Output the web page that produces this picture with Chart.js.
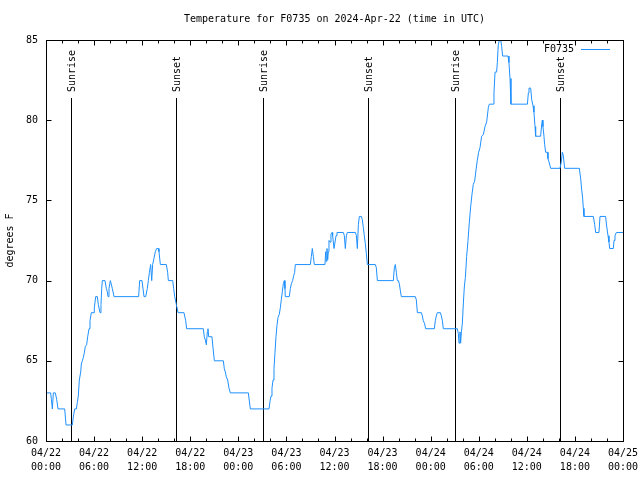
<!DOCTYPE html>
<html>
<head>
<meta charset="utf-8">
<title>Temperature for F0735</title>
<script src="https://cdn.jsdelivr.net/npm/chart.js@4.4.1/dist/chart.umd.min.js"></script>
<style>
  body { margin: 0; background: #fff; }
  canvas { display: block; }
</style>
</head>
<body>
<canvas id="chart" width="640" height="480"></canvas>
<script>
// Dados: horas desde 04/22 00:00 UTC e temperatura (F)
const hours = [
  0, 0.58, 0.67, 0.79, 0.92, 1.16, 1.33, 1.5, 2.33, 2.5, 3.29, 3.41, 3.58, 3.79, 3.91, 4.03,
  4.16, 4.33, 4.41, 4.53, 4.66, 4.78, 4.91, 5.07, 5.2, 5.37, 5.49, 5.66, 5.99, 6.03, 6.2, 6.41,
  6.53, 6.74, 6.86, 6.95, 7.03, 7.36, 7.53, 7.65, 7.74, 7.86, 8.03, 8.11, 8.28, 8.49, 11.56, 11.69,
  11.98, 12.23, 12.44, 12.64, 12.77, 12.9, 13.06, 13.19, 13.31, 13.48, 13.64, 13.81, 14.02, 14.1,
  14.27, 15.02, 15.18, 15.27, 15.81, 15.93, 16.06, 16.27, 16.48, 17.22, 17.43, 17.55, 19.63, 19.75,
  19.88, 20.01, 20.13, 20.21, 20.3, 20.71, 20.84, 21.01, 22.13, 22.25, 22.38, 22.5, 22.67, 22.83,
  23, 25.25, 25.37, 25.5, 27.83, 27.96, 28.08, 28.2, 28.33, 28.45, 28.57, 28.7, 28.82, 28.95,
  29.11, 29.24, 29.36, 29.49, 29.61, 29.74, 29.82, 29.86, 30.36, 30.49, 30.61, 30.78, 30.9, 31.03,
  31.11, 32.99, 33.11, 33.23, 33.36, 33.48, 34.81, 34.9, 34.98, 35.06, 35.15, 35.23, 35.31, 35.44,
  35.56, 35.69, 35.77, 35.94, 36.06, 36.19, 36.31, 37.1, 37.23, 37.35, 37.48, 37.6, 38.6, 38.73,
  38.85, 38.98, 39.1, 39.35, 39.47, 39.6, 39.72, 39.85, 39.97, 40.1, 41.1, 41.22, 41.35, 43.34,
  43.47, 43.59, 43.72, 43.84, 43.97, 44.09, 44.21, 44.34, 46.09, 46.21, 46.34, 46.84, 46.96, 47.08,
  47.25, 47.37, 48.46, 48.58, 48.71, 48.83, 49.21, 49.33, 49.46, 49.58, 51.33, 51.45, 51.54, 51.66,
  51.74, 51.83, 51.95, 52.08, 52.2, 52.33, 52.49, 52.66, 52.82, 52.99, 53.16, 53.32, 53.49, 53.66,
  53.82, 53.99, 54.16, 54.36, 54.57, 54.78, 54.99, 55.2, 55.32, 55.82, 55.9, 56.03, 56.23, 56.32,
  56.44, 56.57, 56.74, 56.86, 56.98, 57.65, 57.77, 57.9, 58.02, 60.07, 60.19, 60.27, 60.48, 60.6,
  60.77, 60.89, 61.02, 61.1, 61.72, 61.85, 61.93, 62.01, 62.14, 62.22, 62.35, 62.56, 62.64, 62.77,
  62.97, 64.14, 64.3, 64.43, 64.55, 64.72, 66.55, 66.71, 66.84, 66.97, 67.05, 67.13, 68.3, 68.46,
  68.59, 69, 69.13, 69.83, 69.96, 70.13, 70.25, 70.34, 70.79, 70.88, 71, 71.17, 72
];
const temps = [
  63, 63, 62.6, 62, 63, 63, 62.6, 62, 62, 61, 61, 61.5, 62, 62, 62.4, 62.8,
  63.8, 64.3, 64.8, 65, 65.2, 65.5, 65.9, 66, 66.5, 67, 67.5, 68, 68, 68.3, 69, 69,
  68.5, 68, 68.5, 69.5, 70, 70, 69.5, 69.3, 69, 69.5, 70, 70, 69.5, 69, 69, 70,
  70, 69, 69, 69.5, 70, 70.5, 71, 70, 71, 71.4, 71.8, 72, 72, 71.8,
  71, 71, 70.5, 70, 70, 69.5, 69, 68.5, 68, 68, 67.5, 67, 67, 66.5,
  66.3, 66, 66.8, 67, 66.5, 66.5, 65.8, 65, 65, 64.5, 64.3, 64, 63.8, 63.3,
  63, 63, 62.5, 62, 62, 62.5, 62.8, 63.3, 63.8, 64.5, 65.5, 66.5, 67.2, 67.7,
  67.9, 68.3, 68.8, 69.3, 69.8, 70, 69.5, 69, 69, 69.5, 69.8, 70, 70.3, 70.5,
  71, 71, 71.5, 72, 71.5, 71, 71, 71.8, 71.2, 72, 71.3, 71.8, 72.5, 72.4,
  72.9, 73, 72.8, 72, 72, 72.8, 73, 73, 72.8, 72, 72.8, 73, 73, 72.8,
  72, 73.5, 74, 74, 73.8, 73.3, 72.8, 72.3, 71.7, 71, 71, 70.8, 70, 70,
  70.8, 71, 70.5, 70, 70, 69.8, 69.4, 69, 69, 68.8, 68, 68, 67.8, 67.5,
  67.3, 67, 67, 67.5, 67.8, 68, 68, 67.8, 67.5, 67, 67, 66.7, 66.1, 66.8,
  66.1, 66.8, 67.3, 68.6, 69.6, 70.2, 71.5, 72.5, 73.6, 74.6, 75.4, 76, 76.2, 76.9,
  77.5, 78, 78.3, 79, 79.1, 79.6, 79.9, 80.8, 81, 81, 81.7, 83, 83, 83.6,
  84.7, 85, 85, 84.6, 84, 84, 83.6, 82.6, 81, 81, 81.7, 82, 82, 81.3,
  80.9, 80.5, 79.6, 79, 79, 79.7, 80, 79.6, 79, 78.5, 78, 78, 77.6, 77.4,
  77, 77, 77.4, 78, 77.8, 77, 77, 76.4, 75.7, 75.1, 74.5, 74, 74, 73.5,
  73, 73, 74, 74, 73.4, 72.8, 72.4, 72, 72, 72.5, 72.8, 73, 73
];

// Nascer e pôr do sol (horas)
const eventHours = [3.12, 16.25, 27.1, 40.22, 51.0, 64.2];
const eventLabels = ["Sunrise", "Sunset", "Sunrise", "Sunset", "Sunrise", "Sunset"];

// Rótulos do eixo x (a cada 6 horas)
const tickDates = ["04/22", "04/22", "04/22", "04/22", "04/23", "04/23", "04/23",
  "04/23", "04/24", "04/24", "04/24", "04/24", "04/25"];
const tickTimes = ["00:00", "06:00", "12:00", "18:00", "00:00", "06:00", "12:00",
  "18:00", "00:00", "06:00", "12:00", "18:00", "00:00"];
const yTicks = [60, 65, 70, 75, 80, 85];

const seriesName = "F0735";
const lineColor = "#1e90ff";
const monoFont = "'DejaVu Sans Mono', monospace";

Chart.defaults.font.family = monoFont;
Chart.defaults.font.size = 10;
Chart.defaults.color = "#000";

const px = (v) => Math.round(v) + 0.5;

// Moldura com marcas para dentro (estilo gnuplot)
const framePlugin = {
  id: "frame",
  afterDraw: (chart) => {
    const { ctx, chartArea: a, scales } = chart;
    const l = px(a.left), r = px(a.right), t = px(a.top), b = px(a.bottom);
    ctx.save();
    ctx.strokeStyle = "#000";
    ctx.lineWidth = 1;
    ctx.strokeRect(l, t, r - l, b - t);
    ctx.beginPath();
    for (let h = 0; h <= 72; h += 2) {
      const x = px(scales.x.getPixelForValue(h));
      const len = h % 6 === 0 ? 5 : 3;
      ctx.moveTo(x, b);
      ctx.lineTo(x, b - len);
      ctx.moveTo(x, t);
      ctx.lineTo(x, t + len);
    }
    yTicks.forEach((v) => {
      const y = px(scales.y.getPixelForValue(v));
      ctx.moveTo(l, y);
      ctx.lineTo(l + 5, y);
      ctx.moveTo(r, y);
      ctx.lineTo(r - 5, y);
    });
    ctx.stroke();

    // Legenda: texto e amostra da linha
    const ly = Math.round(a.top + 9) + 0.5;
    ctx.font = "10px " + monoFont;
    ctx.fillStyle = "#000";
    ctx.textAlign = "right";
    ctx.textBaseline = "middle";
    ctx.fillText(seriesName, a.right - 49, ly);
    ctx.strokeStyle = lineColor;
    ctx.beginPath();
    ctx.moveTo(a.right - 42, ly);
    ctx.lineTo(a.right - 13, ly);
    ctx.stroke();
    ctx.restore();
  },
};

// Linhas verticais de nascer/pôr do sol
const eventPlugin = {
  id: "events",
  beforeDatasetsDraw: (chart) => {
    const { ctx, chartArea: a, scales } = chart;
    ctx.save();
    ctx.strokeStyle = "#000";
    ctx.fillStyle = "#000";
    ctx.lineWidth = 1;
    ctx.font = "10px " + monoFont;
    eventHours.forEach((h, i) => {
      const x = px(scales.x.getPixelForValue(h));
      ctx.beginPath();
      ctx.moveTo(x, a.bottom);
      ctx.lineTo(x, a.top + 58);
      ctx.stroke();
      ctx.save();
      ctx.translate(x + 1, a.top + 52);
      ctx.rotate(-Math.PI / 2);
      ctx.textAlign = "left";
      ctx.textBaseline = "middle";
      ctx.fillText(eventLabels[i], 0, 0);
      ctx.restore();
    });
    ctx.restore();
  },
};

const ctx = document.querySelector("#chart").getContext("2d");
new Chart(ctx, {
  type: "line",
  data: {
    datasets: [
      {
        label: seriesName,
        data: hours.map((h, i) => ({ x: h, y: temps[i] })),
        borderColor: lineColor,
        borderWidth: 1,
        pointRadius: 0,
        tension: 0,
        fill: false,
      },
    ],
  },
  options: {
    responsive: false,
    animation: false,
    devicePixelRatio: 1,
    layout: { padding: { left: 0, right: 17, top: 0, bottom: 0 } },
    plugins: {
      legend: { display: false },
      tooltip: { enabled: false },
      title: {
        display: true,
        text: "Temperature for F0735 on 2024-Apr-22 (time in UTC)",
        fullSize: false,
        font: { size: 10, weight: "normal", lineHeight: 1.2 },
        padding: { top: 13, bottom: 15 },
      },
    },
    scales: {
      x: {
        type: "linear",
        min: 0,
        max: 72,
        grid: { display: false, drawTicks: false },
        border: { display: false },
        ticks: {
          stepSize: 6,
          autoSkip: false,
          maxRotation: 0,
          padding: 5,
          font: { lineHeight: 1.4 },
          callback: (value) => {
            const i = Math.round(value / 6);
            return [tickDates[i], tickTimes[i]];
          },
        },
        afterFit: (scale) => {
          scale.height = 39;
          scale.paddingLeft = 0;
          scale.paddingRight = 0;
        },
      },
      y: {
        min: yTicks[0],
        max: yTicks[yTicks.length - 1],
        grid: { display: false, drawTicks: false },
        border: { display: false },
        ticks: { stepSize: 5, padding: 8 },
        title: {
          display: true,
          text: "degrees F",
          font: { size: 10, lineHeight: 1.2 },
          padding: { top: 4, bottom: 0 },
        },
        afterFit: (scale) => {
          scale.width = 46;
        },
      },
    },
  },
  plugins: [eventPlugin, framePlugin],
});
</script>
</body>
</html>
